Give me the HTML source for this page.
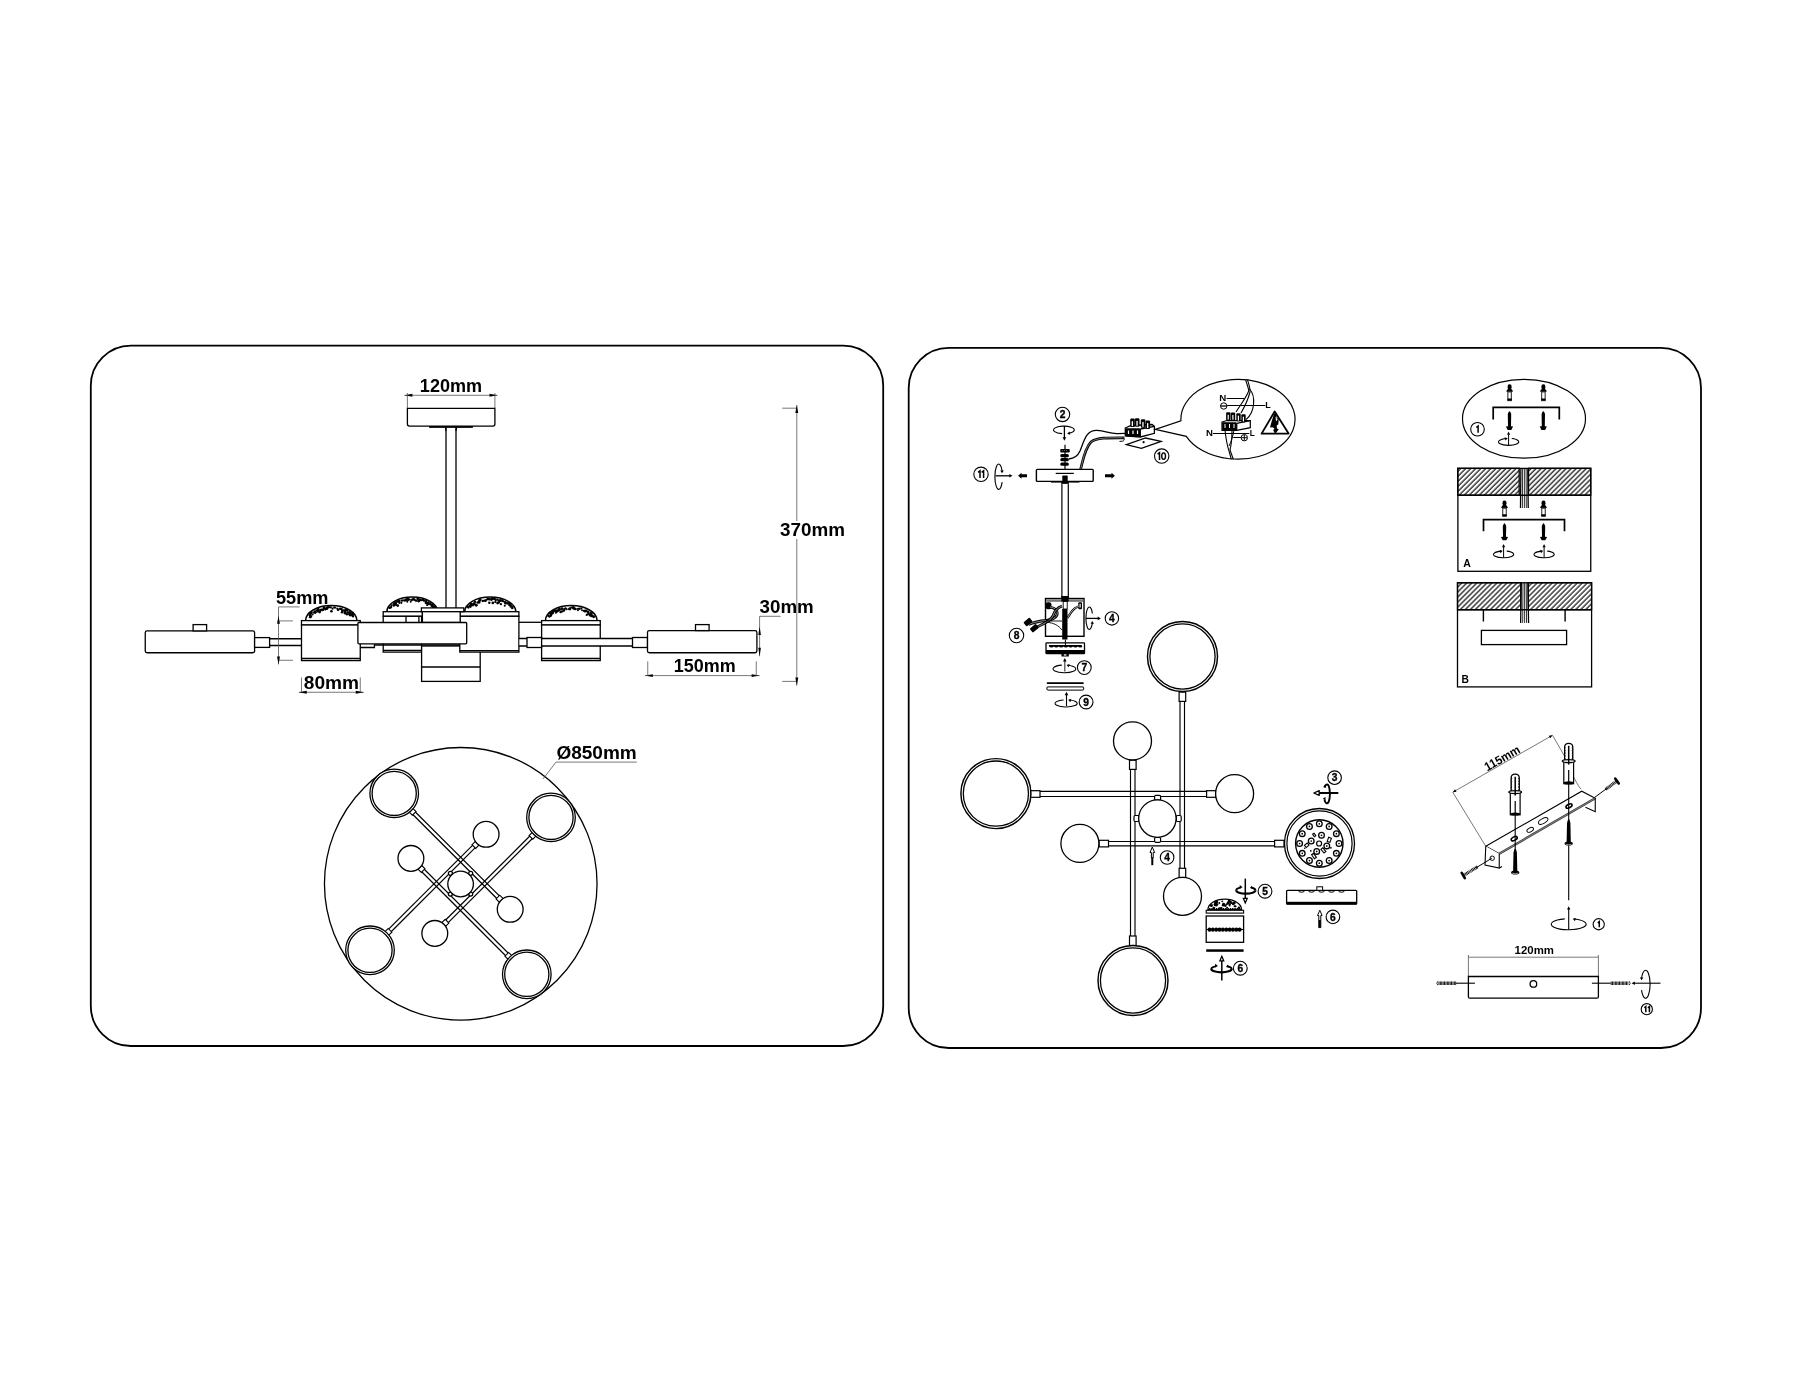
<!DOCTYPE html>
<html><head><meta charset="utf-8">
<style>
html,body{margin:0;padding:0;background:#fff;}
body{width:1800px;height:1400px;overflow:hidden;}
svg{display:block;filter:grayscale(1);}
text{font-family:"Liberation Sans",sans-serif;font-weight:bold;fill:#000;}
.k{fill:none;stroke:#000;stroke-width:1.3;}
.t{fill:none;stroke:#000;stroke-width:1;}
.d{fill:none;stroke:#555;stroke-width:0.8;}
.p{fill:none;stroke:#000;stroke-width:1.8;}
.w{fill:#fff;stroke:#000;stroke-width:1.3;}
.f{fill:#000;stroke:none;}
.wf{fill:#fff;stroke:none;}
.g{fill:#777;stroke:none;}
.n{fill:#fff;stroke:#000;stroke-width:1.1;}
</style></head>
<body>
<svg width="1800" height="1400" viewBox="0 0 1800 1400">
<!-- panels -->
<rect class="p" x="90.8" y="345.6" width="792.4" height="700.4" rx="40"/>
<rect class="p" x="908.7" y="347.9" width="792.3" height="700.1" rx="40"/>
<line class="d" x1="404.40" y1="395.30" x2="497.50" y2="395.30"/>
<path class="f" d="M404.40,395.30 L412.40,393.85 L412.40,396.75Z"/>
<path class="f" d="M497.50,395.30 L489.50,396.75 L489.50,393.85Z"/>
<line class="d" x1="407.40" y1="393.00" x2="407.40" y2="408.00"/>
<line class="d" x1="494.90" y1="393.00" x2="494.90" y2="408.00"/>
<text opacity="0.995" x="451.00" y="391.80" font-size="17.5" textLength="62.30" lengthAdjust="spacingAndGlyphs" text-anchor="middle" >120mm</text>
<path class="w" d="M407.4,408.4 L494.9,408.4 L494.9,424.1 Q494.9,426.1 492.9,426.1 L409.4,426.1 Q407.4,426.1 407.4,424.1 Z"/>
<line class="k" x1="429.20" y1="426.90" x2="472.80" y2="426.90"/>
<line x1="429.2" y1="427" x2="472.8" y2="427" stroke="#000" stroke-width="1.6"/>
<path class="k" d="M445.4,427.5 Q446,429 446,431 M456.6,427.5 Q456,429 456,431"/>
<line class="k" x1="446.00" y1="426.50" x2="446.00" y2="608.00"/>
<line class="k" x1="456.00" y1="426.50" x2="456.00" y2="608.00"/>
<path class="w" style="stroke-width:1.5" d="M386.90,611.70 A25.35,14.70 0 0 1 437.60,611.70"/>
<circle cx="389.66" cy="607.75" r="1.36" fill="#000"/>
<circle cx="390.91" cy="607.40" r="1.16" fill="#000"/>
<circle cx="391.41" cy="606.65" r="0.93" fill="#000"/>
<circle cx="391.34" cy="605.30" r="0.96" fill="#000"/>
<circle cx="393.59" cy="605.51" r="0.99" fill="#000"/>
<circle cx="393.92" cy="604.70" r="1.56" fill="#000"/>
<circle cx="394.61" cy="603.62" r="1.58" fill="#000"/>
<circle cx="396.05" cy="603.94" r="1.10" fill="#000"/>
<circle cx="395.95" cy="602.14" r="1.12" fill="#000"/>
<circle cx="397.68" cy="601.47" r="1.31" fill="#000"/>
<circle cx="399.03" cy="601.39" r="1.28" fill="#000"/>
<circle cx="399.44" cy="600.50" r="1.04" fill="#000"/>
<circle cx="401.68" cy="600.66" r="1.12" fill="#000"/>
<circle cx="402.96" cy="600.39" r="1.11" fill="#000"/>
<circle cx="404.71" cy="600.59" r="1.07" fill="#000"/>
<circle cx="405.78" cy="600.01" r="1.51" fill="#000"/>
<circle cx="407.23" cy="599.26" r="1.59" fill="#000"/>
<circle cx="408.20" cy="599.45" r="1.43" fill="#000"/>
<circle cx="409.72" cy="599.50" r="0.93" fill="#000"/>
<circle cx="411.68" cy="600.06" r="1.30" fill="#000"/>
<circle cx="413.35" cy="599.04" r="1.39" fill="#000"/>
<circle cx="414.53" cy="599.69" r="1.22" fill="#000"/>
<circle cx="416.05" cy="600.64" r="1.23" fill="#000"/>
<circle cx="417.75" cy="598.80" r="1.39" fill="#000"/>
<circle cx="418.60" cy="601.07" r="1.48" fill="#000"/>
<circle cx="420.10" cy="599.93" r="1.37" fill="#000"/>
<circle cx="421.20" cy="600.33" r="1.02" fill="#000"/>
<circle cx="423.04" cy="599.86" r="1.44" fill="#000"/>
<circle cx="424.18" cy="600.65" r="1.17" fill="#000"/>
<circle cx="426.25" cy="601.00" r="1.21" fill="#000"/>
<circle cx="426.07" cy="602.85" r="1.47" fill="#000"/>
<circle cx="428.30" cy="602.41" r="1.19" fill="#000"/>
<circle cx="428.04" cy="603.78" r="1.57" fill="#000"/>
<circle cx="430.11" cy="603.18" r="1.06" fill="#000"/>
<circle cx="430.55" cy="604.29" r="1.31" fill="#000"/>
<circle cx="432.34" cy="604.35" r="1.19" fill="#000"/>
<circle cx="432.07" cy="605.77" r="1.57" fill="#000"/>
<circle cx="432.98" cy="606.55" r="1.33" fill="#000"/>
<circle cx="434.54" cy="606.88" r="1.53" fill="#000"/>
<circle cx="433.28" cy="608.30" r="1.46" fill="#000"/>
<circle cx="407.36" cy="601.78" r="0.95" fill="#000"/>
<circle cx="418.56" cy="601.13" r="0.93" fill="#000"/>
<circle cx="399.44" cy="603.04" r="1.07" fill="#000"/>
<circle cx="394.06" cy="605.50" r="0.98" fill="#000"/>
<circle cx="396.16" cy="605.11" r="0.91" fill="#000"/>
<circle cx="427.15" cy="605.13" r="0.97" fill="#000"/>
<circle cx="401.38" cy="602.86" r="1.08" fill="#000"/>
<circle cx="397.70" cy="605.57" r="1.40" fill="#000"/>
<circle cx="410.71" cy="601.74" r="0.94" fill="#000"/>
<circle cx="396.14" cy="605.07" r="1.03" fill="#000"/>
<circle cx="426.44" cy="603.61" r="0.91" fill="#000"/>
<rect class="w" x="383.20" y="611.70" width="39.20" height="4.60"/>
<rect class="w" x="383.20" y="616.30" width="38.40" height="35.80"/>
<line class="k" x1="383.20" y1="650.30" x2="421.60" y2="650.30"/>
<line class="k" x1="406.00" y1="616.30" x2="406.00" y2="622.50"/>
<line class="k" x1="418.90" y1="616.30" x2="418.90" y2="622.50"/>
<rect class="w" x="421.60" y="646.00" width="58.60" height="35.40"/>
<line class="k" x1="421.60" y1="667.00" x2="480.20" y2="667.00"/>
<path class="w" style="stroke-width:1.5" d="M464.70,611.70 A25.55,14.70 0 0 1 515.80,611.70"/>
<circle cx="468.47" cy="607.73" r="1.00" fill="#000"/>
<circle cx="467.79" cy="606.75" r="1.27" fill="#000"/>
<circle cx="470.32" cy="606.61" r="1.39" fill="#000"/>
<circle cx="469.69" cy="605.70" r="1.02" fill="#000"/>
<circle cx="471.03" cy="605.00" r="1.45" fill="#000"/>
<circle cx="471.06" cy="604.11" r="1.47" fill="#000"/>
<circle cx="473.50" cy="604.16" r="1.46" fill="#000"/>
<circle cx="474.19" cy="603.49" r="1.06" fill="#000"/>
<circle cx="474.44" cy="602.41" r="0.92" fill="#000"/>
<circle cx="475.12" cy="601.91" r="1.08" fill="#000"/>
<circle cx="477.72" cy="602.48" r="1.21" fill="#000"/>
<circle cx="479.13" cy="602.10" r="1.57" fill="#000"/>
<circle cx="479.10" cy="600.32" r="1.06" fill="#000"/>
<circle cx="480.31" cy="599.95" r="1.34" fill="#000"/>
<circle cx="482.84" cy="600.88" r="1.24" fill="#000"/>
<circle cx="483.97" cy="600.60" r="0.96" fill="#000"/>
<circle cx="485.43" cy="600.66" r="1.45" fill="#000"/>
<circle cx="486.77" cy="599.54" r="1.02" fill="#000"/>
<circle cx="488.25" cy="599.11" r="1.46" fill="#000"/>
<circle cx="489.94" cy="599.21" r="1.18" fill="#000"/>
<circle cx="491.38" cy="599.98" r="1.02" fill="#000"/>
<circle cx="492.20" cy="598.69" r="1.53" fill="#000"/>
<circle cx="494.38" cy="598.83" r="1.48" fill="#000"/>
<circle cx="495.76" cy="600.17" r="1.15" fill="#000"/>
<circle cx="497.14" cy="599.16" r="0.91" fill="#000"/>
<circle cx="498.55" cy="600.61" r="1.27" fill="#000"/>
<circle cx="500.07" cy="600.46" r="1.51" fill="#000"/>
<circle cx="501.57" cy="600.34" r="1.08" fill="#000"/>
<circle cx="502.42" cy="600.68" r="1.31" fill="#000"/>
<circle cx="503.45" cy="601.45" r="0.99" fill="#000"/>
<circle cx="505.22" cy="602.02" r="1.22" fill="#000"/>
<circle cx="505.27" cy="603.37" r="1.19" fill="#000"/>
<circle cx="507.17" cy="603.37" r="1.27" fill="#000"/>
<circle cx="508.77" cy="603.10" r="1.21" fill="#000"/>
<circle cx="509.56" cy="603.61" r="1.46" fill="#000"/>
<circle cx="509.56" cy="604.90" r="1.41" fill="#000"/>
<circle cx="510.81" cy="605.58" r="1.26" fill="#000"/>
<circle cx="510.55" cy="606.75" r="0.97" fill="#000"/>
<circle cx="512.27" cy="606.99" r="1.09" fill="#000"/>
<circle cx="512.28" cy="608.05" r="1.29" fill="#000"/>
<circle cx="500.95" cy="604.20" r="1.12" fill="#000"/>
<circle cx="495.34" cy="602.07" r="1.16" fill="#000"/>
<circle cx="498.85" cy="602.52" r="1.17" fill="#000"/>
<circle cx="489.30" cy="602.86" r="1.25" fill="#000"/>
<circle cx="504.76" cy="605.72" r="1.03" fill="#000"/>
<circle cx="492.82" cy="602.93" r="1.32" fill="#000"/>
<circle cx="474.68" cy="604.09" r="1.12" fill="#000"/>
<circle cx="472.93" cy="605.45" r="0.94" fill="#000"/>
<circle cx="497.57" cy="603.09" r="1.35" fill="#000"/>
<circle cx="476.29" cy="604.88" r="1.23" fill="#000"/>
<circle cx="476.22" cy="605.34" r="1.38" fill="#000"/>
<rect class="w" x="459.80" y="611.70" width="59.10" height="4.60"/>
<rect class="w" x="459.80" y="616.30" width="59.10" height="35.80"/>
<line class="k" x1="459.80" y1="650.60" x2="518.90" y2="650.60"/>
<rect class="w" x="421.40" y="607.90" width="42.40" height="3.80"/>
<rect class="w" x="422.40" y="611.70" width="37.80" height="10.80"/>
<path class="w" style="stroke-width:1.5" d="M305.60,620.60 A25.65,15.00 0 0 1 356.90,620.60"/>
<circle cx="310.10" cy="617.17" r="1.18" fill="#000"/>
<circle cx="310.72" cy="616.40" r="1.48" fill="#000"/>
<circle cx="309.98" cy="615.35" r="1.26" fill="#000"/>
<circle cx="310.23" cy="614.29" r="1.12" fill="#000"/>
<circle cx="310.84" cy="613.18" r="1.29" fill="#000"/>
<circle cx="311.55" cy="612.60" r="1.13" fill="#000"/>
<circle cx="313.47" cy="612.57" r="0.95" fill="#000"/>
<circle cx="315.12" cy="612.30" r="1.58" fill="#000"/>
<circle cx="314.73" cy="611.20" r="0.93" fill="#000"/>
<circle cx="316.33" cy="610.43" r="0.99" fill="#000"/>
<circle cx="318.11" cy="611.23" r="1.47" fill="#000"/>
<circle cx="318.19" cy="609.39" r="1.54" fill="#000"/>
<circle cx="320.35" cy="609.99" r="0.96" fill="#000"/>
<circle cx="321.19" cy="609.73" r="1.20" fill="#000"/>
<circle cx="322.73" cy="609.94" r="1.34" fill="#000"/>
<circle cx="324.06" cy="607.70" r="1.50" fill="#000"/>
<circle cx="325.31" cy="609.30" r="1.22" fill="#000"/>
<circle cx="326.78" cy="608.41" r="1.55" fill="#000"/>
<circle cx="328.01" cy="607.32" r="1.27" fill="#000"/>
<circle cx="329.49" cy="607.19" r="1.01" fill="#000"/>
<circle cx="330.82" cy="607.37" r="1.12" fill="#000"/>
<circle cx="332.49" cy="608.66" r="1.10" fill="#000"/>
<circle cx="334.25" cy="607.41" r="1.14" fill="#000"/>
<circle cx="335.25" cy="607.66" r="0.91" fill="#000"/>
<circle cx="337.20" cy="608.59" r="1.03" fill="#000"/>
<circle cx="338.09" cy="609.61" r="0.97" fill="#000"/>
<circle cx="340.12" cy="608.85" r="1.25" fill="#000"/>
<circle cx="341.52" cy="609.10" r="1.25" fill="#000"/>
<circle cx="342.04" cy="610.62" r="1.14" fill="#000"/>
<circle cx="343.68" cy="610.49" r="1.35" fill="#000"/>
<circle cx="345.02" cy="610.13" r="0.94" fill="#000"/>
<circle cx="346.39" cy="610.04" r="1.42" fill="#000"/>
<circle cx="347.49" cy="610.80" r="0.96" fill="#000"/>
<circle cx="347.75" cy="612.71" r="1.37" fill="#000"/>
<circle cx="349.45" cy="612.13" r="1.11" fill="#000"/>
<circle cx="350.63" cy="612.74" r="1.21" fill="#000"/>
<circle cx="349.83" cy="614.35" r="1.58" fill="#000"/>
<circle cx="352.12" cy="614.29" r="1.58" fill="#000"/>
<circle cx="352.46" cy="615.03" r="0.90" fill="#000"/>
<circle cx="352.83" cy="615.90" r="1.25" fill="#000"/>
<circle cx="353.22" cy="616.58" r="0.90" fill="#000"/>
<circle cx="320.38" cy="610.81" r="1.10" fill="#000"/>
<circle cx="312.56" cy="614.49" r="1.05" fill="#000"/>
<circle cx="319.78" cy="612.25" r="1.16" fill="#000"/>
<circle cx="341.99" cy="612.20" r="1.26" fill="#000"/>
<circle cx="346.93" cy="613.52" r="1.06" fill="#000"/>
<circle cx="350.31" cy="615.22" r="1.26" fill="#000"/>
<circle cx="338.08" cy="609.77" r="1.32" fill="#000"/>
<circle cx="346.87" cy="614.13" r="1.27" fill="#000"/>
<circle cx="345.07" cy="611.98" r="1.16" fill="#000"/>
<circle cx="331.44" cy="611.19" r="1.30" fill="#000"/>
<circle cx="344.86" cy="613.04" r="1.35" fill="#000"/>
<rect class="w" x="301.50" y="620.60" width="58.75" height="4.40"/>
<rect class="w" x="301.50" y="625.00" width="58.75" height="35.60"/>
<line class="k" x1="301.50" y1="658.50" x2="360.25" y2="658.50"/>
<path class="k" d="M360.25,647.5 L374.4,647.5 L374.4,644.4"/>
<line class="k" x1="374.00" y1="645.00" x2="460.00" y2="645.00"/>
<rect class="w" x="357.90" y="622.50" width="108.80" height="21.30" rx="1"/>
<line class="k" x1="518.90" y1="622.30" x2="541.60" y2="622.30"/>
<rect class="w" x="145.25" y="630.90" width="109.35" height="21.85" rx="1.8"/>
<rect class="w" x="193.10" y="624.60" width="13.50" height="6.30"/>
<rect class="w" x="254.60" y="637.60" width="15.00" height="9.80"/>
<line class="k" x1="269.60" y1="638.75" x2="301.50" y2="638.75"/>
<line class="k" x1="269.60" y1="645.50" x2="301.50" y2="645.50"/>
<path class="w" style="stroke-width:1.5" d="M545.40,620.60 A25.85,15.00 0 0 1 597.10,620.60"/>
<circle cx="549.47" cy="616.78" r="1.06" fill="#000"/>
<circle cx="548.55" cy="615.90" r="1.15" fill="#000"/>
<circle cx="550.63" cy="615.75" r="1.29" fill="#000"/>
<circle cx="551.06" cy="614.64" r="1.38" fill="#000"/>
<circle cx="550.52" cy="613.27" r="1.46" fill="#000"/>
<circle cx="552.46" cy="613.13" r="1.27" fill="#000"/>
<circle cx="552.55" cy="611.90" r="1.42" fill="#000"/>
<circle cx="553.31" cy="611.44" r="1.09" fill="#000"/>
<circle cx="554.93" cy="610.87" r="1.42" fill="#000"/>
<circle cx="556.67" cy="610.77" r="1.17" fill="#000"/>
<circle cx="557.73" cy="610.79" r="1.44" fill="#000"/>
<circle cx="558.98" cy="610.25" r="0.95" fill="#000"/>
<circle cx="559.41" cy="609.20" r="1.42" fill="#000"/>
<circle cx="561.19" cy="609.43" r="0.91" fill="#000"/>
<circle cx="562.05" cy="608.52" r="1.37" fill="#000"/>
<circle cx="564.31" cy="609.02" r="1.10" fill="#000"/>
<circle cx="565.43" cy="608.36" r="1.23" fill="#000"/>
<circle cx="566.70" cy="609.20" r="1.04" fill="#000"/>
<circle cx="568.87" cy="609.12" r="0.91" fill="#000"/>
<circle cx="569.79" cy="608.81" r="1.58" fill="#000"/>
<circle cx="571.20" cy="607.52" r="1.05" fill="#000"/>
<circle cx="573.19" cy="607.43" r="1.31" fill="#000"/>
<circle cx="573.84" cy="608.18" r="1.57" fill="#000"/>
<circle cx="575.17" cy="608.96" r="1.26" fill="#000"/>
<circle cx="577.30" cy="608.95" r="1.06" fill="#000"/>
<circle cx="578.84" cy="608.70" r="0.92" fill="#000"/>
<circle cx="579.44" cy="608.82" r="1.22" fill="#000"/>
<circle cx="581.39" cy="608.45" r="1.14" fill="#000"/>
<circle cx="582.00" cy="610.25" r="0.90" fill="#000"/>
<circle cx="583.56" cy="610.73" r="0.98" fill="#000"/>
<circle cx="585.03" cy="610.97" r="1.53" fill="#000"/>
<circle cx="586.20" cy="610.64" r="1.18" fill="#000"/>
<circle cx="587.46" cy="611.77" r="1.15" fill="#000"/>
<circle cx="588.64" cy="611.63" r="0.93" fill="#000"/>
<circle cx="588.45" cy="612.95" r="1.10" fill="#000"/>
<circle cx="590.89" cy="613.07" r="1.09" fill="#000"/>
<circle cx="591.62" cy="613.50" r="1.16" fill="#000"/>
<circle cx="591.18" cy="615.17" r="1.47" fill="#000"/>
<circle cx="591.61" cy="615.72" r="1.56" fill="#000"/>
<circle cx="592.55" cy="616.19" r="0.93" fill="#000"/>
<circle cx="593.68" cy="616.80" r="1.43" fill="#000"/>
<circle cx="578.01" cy="610.36" r="0.92" fill="#000"/>
<circle cx="589.02" cy="613.99" r="1.14" fill="#000"/>
<circle cx="563.97" cy="610.47" r="1.27" fill="#000"/>
<circle cx="590.04" cy="615.18" r="1.23" fill="#000"/>
<circle cx="562.36" cy="611.45" r="1.10" fill="#000"/>
<circle cx="556.59" cy="612.34" r="1.00" fill="#000"/>
<circle cx="587.69" cy="614.17" r="1.01" fill="#000"/>
<circle cx="586.72" cy="614.95" r="1.12" fill="#000"/>
<circle cx="555.68" cy="612.86" r="0.95" fill="#000"/>
<circle cx="563.72" cy="610.00" r="1.02" fill="#000"/>
<circle cx="560.65" cy="611.91" r="1.34" fill="#000"/>
<rect class="w" x="541.60" y="620.60" width="58.65" height="4.40"/>
<rect class="w" x="541.60" y="625.00" width="58.65" height="35.60"/>
<line class="k" x1="541.60" y1="658.50" x2="600.25" y2="658.50"/>
<rect x="519.6" y="638.8" width="113" height="6.9" fill="#fff"/>
<line class="k" x1="519.00" y1="638.50" x2="632.50" y2="638.50"/>
<line class="k" x1="519.00" y1="646.00" x2="632.50" y2="646.00"/>
<rect class="w" x="527.00" y="637.50" width="14.60" height="10.00"/>
<rect class="w" x="632.50" y="637.50" width="15.00" height="10.00"/>
<rect class="w" x="647.50" y="630.60" width="109.40" height="22.15" rx="1.8"/>
<rect class="w" x="695.50" y="624.60" width="13.60" height="6.00"/>
<line class="d" x1="278.50" y1="606.90" x2="278.50" y2="664.40"/>
<line class="d" x1="278.50" y1="606.90" x2="299.60" y2="606.90"/>
<line class="d" x1="279.60" y1="620.90" x2="292.90" y2="620.90"/>
<line class="d" x1="278.50" y1="660.25" x2="293.00" y2="660.25"/>
<path class="f" d="M278.50,615.80 L279.95,623.80 L277.05,623.80Z"/>
<path class="f" d="M278.50,664.40 L277.05,656.40 L279.95,656.40Z"/>
<text opacity="0.995" x="276.00" y="603.75" font-size="17.5" textLength="52.50" lengthAdjust="spacingAndGlyphs" text-anchor="start" >55mm</text>
<line class="d" x1="298.75" y1="692.25" x2="363.75" y2="692.25"/>
<path class="f" d="M298.75,692.25 L306.75,690.80 L306.75,693.70Z"/>
<path class="f" d="M363.75,692.25 L355.75,693.70 L355.75,690.80Z"/>
<line class="d" x1="301.50" y1="677.50" x2="301.50" y2="692.00"/>
<line class="d" x1="360.25" y1="677.50" x2="360.25" y2="692.00"/>
<text opacity="0.995" x="303.75" y="688.75" font-size="17.5" textLength="55.30" lengthAdjust="spacingAndGlyphs" text-anchor="start" >80mm</text>
<line class="d" x1="644.90" y1="675.60" x2="759.60" y2="675.60"/>
<path class="f" d="M644.90,675.60 L652.90,674.15 L652.90,677.05Z"/>
<path class="f" d="M759.60,675.60 L751.60,677.05 L751.60,674.15Z"/>
<line class="d" x1="647.75" y1="661.30" x2="647.75" y2="676.00"/>
<line class="d" x1="756.25" y1="661.30" x2="756.25" y2="676.00"/>
<text opacity="0.995" x="673.70" y="671.70" font-size="17.5" textLength="62.00" lengthAdjust="spacingAndGlyphs" text-anchor="start" >150mm</text>
<line class="d" x1="759.60" y1="616.30" x2="759.60" y2="656.30"/>
<line class="d" x1="759.60" y1="616.30" x2="780.60" y2="616.30"/>
<path class="f" d="M759.60,626.60 L760.90,635.10 L758.30,635.10Z"/>
<path class="f" d="M759.60,656.30 L758.30,647.80 L760.90,647.80Z"/>
<text opacity="0.995" x="759.60" y="612.50" font-size="17.5" textLength="54.20" lengthAdjust="spacingAndGlyphs" text-anchor="start" >30mm</text>
<line class="d" x1="796.80" y1="405.00" x2="796.80" y2="685.60"/>
<line class="d" x1="782.20" y1="408.20" x2="796.80" y2="408.20"/>
<line class="d" x1="782.20" y1="681.40" x2="796.80" y2="681.40"/>
<path class="f" d="M796.80,405.00 L798.25,413.00 L795.35,413.00Z"/>
<path class="f" d="M796.80,685.60 L795.35,677.60 L798.25,677.60Z"/>
<rect x="779" y="521" width="67" height="18" fill="#fff"/>
<text opacity="0.995" x="780.00" y="536.00" font-size="17.5" textLength="65.00" lengthAdjust="spacingAndGlyphs" text-anchor="start" >370mm</text>
<circle class="k" cx="460.75" cy="883.8" r="136.3"/>
<path class="d" d="M543.1,778.9 L556,762.1 L636.8,762.1"/>
<text opacity="0.995" x="556.40" y="758.90" font-size="17.5" textLength="80.40" lengthAdjust="spacingAndGlyphs" text-anchor="start" >Ø850mm</text>
<line class="k" style="stroke-width:1.2" x1="409.55" y1="811.28" x2="500.09" y2="901.74"/>
<line class="k" style="stroke-width:1.2" x1="412.10" y1="808.74" x2="502.63" y2="899.19"/>
<path class="k" style="fill:#fff;stroke-width:1.1" d="M408.99,811.85 L412.38,815.24 L416.06,811.56 L412.66,808.17Z" style="fill:#fff"/>
<path class="k" style="fill:#fff;stroke-width:1.1" d="M499.52,902.30 L496.12,898.91 L499.80,895.23 L503.20,898.63Z" style="fill:#fff"/>
<line class="k" style="stroke-width:1.2" x1="418.47" y1="868.51" x2="508.91" y2="958.96"/>
<line class="k" style="stroke-width:1.2" x1="421.01" y1="865.97" x2="511.46" y2="956.41"/>
<path class="k" style="fill:#fff;stroke-width:1.1" d="M417.90,869.08 L421.29,872.47 L424.97,868.79 L421.58,865.40Z" style="fill:#fff"/>
<path class="k" style="fill:#fff;stroke-width:1.1" d="M508.34,959.52 L504.95,956.13 L508.63,952.45 L512.02,955.84Z" style="fill:#fff"/>
<line class="k" style="stroke-width:1.2" x1="533.10" y1="832.73" x2="442.37" y2="923.29"/>
<line class="k" style="stroke-width:1.2" x1="535.64" y1="835.28" x2="444.92" y2="925.84"/>
<path class="k" style="fill:#fff;stroke-width:1.1" d="M532.53,832.16 L529.13,835.55 L532.81,839.23 L536.21,835.84Z" style="fill:#fff"/>
<path class="k" style="fill:#fff;stroke-width:1.1" d="M441.81,922.73 L445.21,919.34 L448.88,923.02 L445.48,926.41Z" style="fill:#fff"/>
<line class="k" style="stroke-width:1.2" x1="475.99" y1="841.86" x2="385.35" y2="932.42"/>
<line class="k" style="stroke-width:1.2" x1="478.53" y1="844.41" x2="387.90" y2="934.96"/>
<path class="k" style="fill:#fff;stroke-width:1.1" d="M475.42,841.30 L472.02,844.69 L475.70,848.37 L479.10,844.97Z" style="fill:#fff"/>
<path class="k" style="fill:#fff;stroke-width:1.1" d="M384.79,931.85 L388.18,928.46 L391.86,932.14 L388.46,935.53Z" style="fill:#fff"/>
<circle class="w" cx="394.2" cy="793.4" r="24.3"/><circle class="k" cx="394.2" cy="793.4" r="22.1"/>
<circle class="w" cx="551" cy="817.4" r="24.3"/><circle class="k" cx="551" cy="817.4" r="22.1"/>
<circle class="w" cx="370" cy="950.3" r="24.3"/><circle class="k" cx="370" cy="950.3" r="22.1"/>
<circle class="w" cx="526.8" cy="974.3" r="24.3"/><circle class="k" cx="526.8" cy="974.3" r="22.1"/>
<circle class="w" cx="486.1" cy="834.3" r="12.9"/>
<circle class="w" cx="410.9" cy="858.4" r="12.9"/>
<circle class="w" cx="510.2" cy="909.3" r="12.9"/>
<circle class="w" cx="434.8" cy="933.4" r="12.9"/>
<circle class="w" cx="450.4" cy="873.3" r="2"/>
<circle class="w" cx="470.7" cy="873.3" r="2"/>
<circle class="w" cx="450.4" cy="894.1" r="2"/>
<circle class="w" cx="470.7" cy="894.1" r="2"/>
<circle class="w" cx="460.6" cy="884" r="12.8"/>
<circle class="n" cx="1062.50" cy="414.40" r="7.20" />
<text opacity="0.995" x="1062.50" y="418.18" font-size="10.5" text-anchor="middle" textLength="5.7" lengthAdjust="spacingAndGlyphs" style="stroke:#000;stroke-width:0.35">2</text>
<path class="k" d="M1062.09,433.64 A10.40,3.80 0 1 1 1068.78,433.26" style='stroke-width:1.1'/>
<path class="f" d="M1067.18,433.76 L1069.49,431.43 L1070.31,434.73Z"/>
<line class="k" x1="1064.40" y1="426.00" x2="1064.40" y2="438.00" />
<path class="f" d="M1064.40,440.80 L1062.60,437.30 L1066.20,437.30Z"/>
<line class="k" x1="1065.00" y1="444.70" x2="1065.00" y2="469.00" style='stroke-width:1.2'/>
<rect class="f" x="1060.30" y="448.90" width="9.40" height="3.70" rx="0.8" />
<circle class="wf" cx="1062.20" cy="450.60" r="0.45" />
<circle class="wf" cx="1064.50" cy="450.60" r="0.45" />
<circle class="wf" cx="1066.80" cy="450.60" r="0.45" />
<rect class="f" x="1060.30" y="454.00" width="8.50" height="3.20" rx="1.5" />
<rect class="f" x="1060.30" y="458.00" width="8.50" height="3.20" rx="1.5" />
<rect class="f" x="1060.30" y="462.50" width="8.50" height="3.20" rx="1.5" />
<path class="k" d="M1068.8,459 C1074,458.5 1077.5,456.5 1080,451 C1084,441 1086,430 1097,430.4 C1106,430.8 1110,434.2 1118,433.6 L1125.3,433.3" style='stroke-width:1.3'/>
<path class="k" d="M1080.6,469.4 C1083,460 1085,448 1091,442 C1097,437.5 1108,437.7 1124.4,437.8" style='stroke-width:2.7'/>
<path class="k" d="M1080.6,469.4 C1083,460 1085,448 1091,442 C1097,437.5 1108,437.7 1124.4,437.8" style='stroke-width:0.8;stroke:#999'/>
<path class="k" d="M1122,437.6 C1124.5,437.8 1125,440.6 1122.5,441.2 L1119.5,441.4" style='stroke-width:1'/>
<rect class="w" x="1036.40" y="469.40" width="56.80" height="12.00" rx="0.8" style='stroke-width:1.4'/>
<line class="k" x1="1055.70" y1="473.40" x2="1073.80" y2="473.40" style='stroke-width:1.2'/>
<line class="k" x1="1051.00" y1="481.90" x2="1079.40" y2="481.90" style='stroke-width:1.4'/>
<rect class="f" x="1062.30" y="475.40" width="5.40" height="8.00" rx="0.8" />
<rect class="f" x="1061.30" y="481.00" width="7.40" height="2.80" />
<path class="f" d="M1018.1,475.8 L1021.5,472.8 L1021.5,474.3 L1027,474.3 L1027,477.3 L1021.5,477.3 L1021.5,478.8Z" />
<path class="f" d="M1114.9,475.8 L1111.5,472.8 L1111.5,474.3 L1105,474.3 L1105,477.3 L1111.5,477.3 L1111.5,478.8Z" />
<circle class="n" cx="981.00" cy="474.30" r="7.20" />
<path d="M978.08,472.44 L980.00,470.82 L980.00,478.08" fill="none" stroke="#000" stroke-width="1.5" stroke-linejoin="miter" stroke-linecap="butt"/>
<path d="M981.68,472.44 L983.60,470.82 L983.60,478.08" fill="none" stroke="#000" stroke-width="1.5" stroke-linejoin="miter" stroke-linecap="butt"/>
<path class="k" d="M1002.14,482.07 A3.80,12.70 0 1 1 1002.14,471.33" style='stroke-width:1.1'/>
<path class="f" d="M1002.04,473.33 L1000.34,470.53 L1003.74,470.53Z"/>
<line class="k" x1="995.50" y1="475.80" x2="1010.00" y2="475.80" />
<path class="f" d="M1012.50,475.80 L1009.30,477.60 L1009.30,474.00Z"/>
<line class="k" x1="1061.90" y1="483.40" x2="1061.90" y2="598.50" style='stroke-width:1.2'/>
<line class="k" x1="1068.30" y1="483.40" x2="1068.30" y2="598.50" style='stroke-width:1.2'/>
<path class="w" d="M1126.4,444.7 L1141.4,448.3 L1161.1,441.4 L1145.6,438 Z" style='stroke-width:1.3'/>
<circle class="f" cx="1143.60" cy="442.20" r="1.10" />
<path class="w" d="M1125.3,428 L1131,425.5 L1152,424.5 L1154.4,426.4 L1154.4,433.3 L1140.3,437 L1125.3,435.8 Z" style='stroke-width:1.3'/>
<line class="k" x1="1140.30" y1="429.00" x2="1154.40" y2="426.40" />
<line class="k" x1="1140.30" y1="429.00" x2="1140.30" y2="437.00" />
<rect class="f" x="1125.60" y="428.20" width="14.40" height="8.30" rx="0.5" />
<rect class="wf" x="1127.90" y="430.50" width="1.20" height="3.50" />
<rect class="wf" x="1132.40" y="430.50" width="1.20" height="3.50" />
<rect class="wf" x="1136.90" y="430.50" width="1.20" height="3.50" />
<rect class="f" x="1130.20" y="418.60" width="4.60" height="8.50" rx="1.2" />
<rect class="wf" x="1131.70" y="421.20" width="1.30" height="4.90" />
<rect class="f" x="1134.90" y="418.30" width="4.60" height="8.50" rx="1.2" />
<rect class="wf" x="1136.40" y="420.90" width="1.30" height="4.90" />
<rect class="f" x="1140.80" y="419.30" width="4.60" height="8.50" rx="1.2" />
<rect class="wf" x="1142.30" y="421.90" width="1.30" height="4.90" />
<rect class="f" x="1145.50" y="420.50" width="4.60" height="8.50" rx="1.2" />
<rect class="wf" x="1147.00" y="423.10" width="1.30" height="4.90" />
<circle class="n" cx="1161.70" cy="456.10" r="7.20" />
<path d="M1157.58,454.24 L1159.50,452.62 L1159.50,459.88" fill="none" stroke="#000" stroke-width="1.5" stroke-linejoin="miter" stroke-linecap="butt"/>
<ellipse cx="1163.60" cy="456.10" rx="1.89" ry="3.25" fill="none" stroke="#000" stroke-width="1.4"/>
<path class="w" d="M1180.9,420.8 A57.1,39.9 0 1 1 1186.3,436.3 L1155.3,429.4 Z" style='stroke-width:1.2'/>
<text opacity="0.995" x="1219.30" y="401.30" font-size="9.8" textLength="7.00" lengthAdjust="spacingAndGlyphs" text-anchor="start" >N</text>
<text opacity="0.995" x="1206.10" y="435.70" font-size="9.8" textLength="6.90" lengthAdjust="spacingAndGlyphs" text-anchor="start" >N</text>
<text opacity="0.995" x="1265.30" y="407.70" font-size="9.8" textLength="5.50" lengthAdjust="spacingAndGlyphs" text-anchor="start" >L</text>
<text opacity="0.995" x="1249.70" y="435.70" font-size="9.8" textLength="5.00" lengthAdjust="spacingAndGlyphs" text-anchor="start" >L</text>
<line class="k" x1="1226.50" y1="398.50" x2="1244.30" y2="398.50" style='stroke-width:1'/>
<line class="k" x1="1227.00" y1="405.50" x2="1265.30" y2="405.50" style='stroke-width:1'/>
<line class="k" x1="1213.00" y1="433.50" x2="1249.30" y2="433.50" style='stroke-width:1'/>
<line class="k" x1="1233.30" y1="437.50" x2="1241.00" y2="437.50" style='stroke-width:1'/>
<circle class="w" cx="1223.70" cy="406.00" r="3.20" style='stroke-width:1'/>
<line class="k" x1="1221.00" y1="406.00" x2="1226.40" y2="406.00" style='stroke-width:1.3'/>
<circle class="w" cx="1244.30" cy="437.70" r="3.20" style='stroke-width:1'/>
<line class="k" x1="1241.50" y1="437.70" x2="1247.00" y2="437.70" style='stroke-width:1'/>
<line class="k" x1="1244.30" y1="435.00" x2="1244.30" y2="440.40" style='stroke-width:1'/>
<path class="k" d="M1245.7,379.8 C1247,385 1249,389 1248.7,391 C1246,398 1241,404 1236,412" style='stroke-width:1.1'/>
<path class="k" d="M1247.5,379.8 C1249,385 1250.5,389 1250,392 C1248,400 1245,406 1241,413" style='stroke-width:1.1'/>
<path class="k" d="M1249.5,389 C1256,396 1255,412 1246,419.7" style='stroke-width:1.1'/>
<path class="k" d="M1225,430 C1226,440 1228,448 1229.3,452 L1231.3,459.3" style='stroke-width:1.1'/>
<path class="k" d="M1232,430 C1232,440 1231,446 1230,450 L1233.3,459.3" style='stroke-width:1.1'/>
<path class="k" d="M1234,430 C1233,436 1231.5,441 1229,446" style='stroke-width:1'/>
<path class="w" d="M1222,422 L1227,420.5 L1250.3,420.7 L1250.3,427.7 L1236.7,430.3 L1222,430.3 Z" style='stroke-width:1.2'/>
<line class="k" x1="1236.70" y1="423.30" x2="1250.30" y2="420.70" />
<line class="k" x1="1236.70" y1="423.30" x2="1236.70" y2="430.30" />
<rect class="f" x="1222.20" y="422.20" width="14.30" height="7.80" rx="0.5" />
<rect class="wf" x="1224.50" y="424.00" width="1.00" height="4.00" />
<rect class="wf" x="1229.00" y="424.00" width="1.00" height="4.00" />
<rect class="wf" x="1233.50" y="424.00" width="1.00" height="4.00" />
<rect class="f" x="1226.10" y="412.30" width="4.40" height="8.00" rx="1.1" />
<rect class="wf" x="1227.60" y="414.70" width="1.20" height="4.80" />
<rect class="f" x="1230.80" y="412.50" width="4.40" height="8.00" rx="1.1" />
<rect class="wf" x="1232.30" y="414.90" width="1.20" height="4.80" />
<rect class="f" x="1236.30" y="413.30" width="4.40" height="8.00" rx="1.1" />
<rect class="wf" x="1237.80" y="415.70" width="1.20" height="4.80" />
<rect class="f" x="1241.30" y="414.30" width="4.40" height="8.00" rx="1.1" />
<rect class="wf" x="1242.80" y="416.70" width="1.20" height="4.80" />
<path class="k" d="M1274.7,411.4 L1261.6,433.6 L1288.6,433.6 Z" style='stroke-width:1.8;stroke-linejoin:round'/>
<path class="f" d="M1274.0,413.6 L1276.4,413.6 L1276.6,418.0 L1278.8,418.6 L1278.3,424.5 L1276.8,425.2 L1276.9,428.6 L1278.8,429.2 L1275.2,434 L1273.2,430.2 L1274.5,428.6 L1272.5,427.2 L1270.0,427.6 L1271.6,421.5 L1273.2,416.5 Z" />
<path class="wf" d="M1275.5,416.5 L1277.6,419.5 L1276,421.5 Z" />
<rect class="w" x="1045.50" y="598.50" width="38.50" height="37.80" style='stroke-width:1.4'/>
<rect class="g" x="1046.20" y="599.30" width="37.10" height="2.50" />
<rect class="f" x="1045.60" y="602.30" width="5.80" height="7.00" rx="2" />
<rect class="f" x="1078.30" y="602.20" width="3.70" height="7.10" rx="1" />
<rect class="wf" x="1079.50" y="603.80" width="1.20" height="3.70" />
<path class="k" d="M1050,607 C1055,608 1058,610 1057,615 C1055,619 1050,620 1046.5,620.5 C1040,621 1033,622.5 1028.5,624.5" style='stroke-width:2.8'/>
<path class="k" d="M1050,607 C1055,608 1058,610 1057,615 C1055,619 1050,620 1046.5,620.5 C1040,621 1033,622.5 1028.5,624.5" style='stroke-width:0.55;stroke:#fff'/>
<path class="k" d="M1062,606 C1057,608 1054,612 1053,616 C1051,620 1046,622.5 1042,624.5 C1038,626.5 1036,627.5 1034.5,628.5" style='stroke-width:2.8'/>
<path class="k" d="M1062,606 C1057,608 1054,612 1053,616 C1051,620 1046,622.5 1042,624.5 C1038,626.5 1036,627.5 1034.5,628.5" style='stroke-width:0.55;stroke:#fff'/>
<path class="k" d="M1067.5,618 C1070.5,613 1073,608 1078.5,606.5" style='stroke-width:2.2'/>
<path class="k" d="M1067.5,618 C1070.5,613 1073,608 1078.5,606.5" style='stroke-width:0.7;stroke:#fff'/>
<path class="k" d="M1046,621 L1062,621" style='stroke-width:0.9'/>
<path class="k" d="M1046,622.3 C1054,622.5 1059,626 1062,630" style='stroke-width:0.9'/>
<rect x="-4" y="-2.6" width="8" height="5.2" rx="1" transform="translate(1028,622) rotate(-40)" fill="#000"/>
<rect x="-4" y="-2.6" width="8" height="5.2" rx="1" transform="translate(1034.3,628.2) rotate(-40)" fill="#000"/>
<rect class="f" x="1061.30" y="596.00" width="7.40" height="5.50" />
<rect class="w" x="1063.20" y="601.50" width="4.00" height="7.50" style='stroke-width:0.9'/>
<rect class="f" x="1062.20" y="609.00" width="5.30" height="30.50" />
<rect class="w" x="1046.00" y="642.80" width="38.50" height="10.70" rx="0.6" style='stroke-width:1.3'/>
<rect class="f" x="1046.00" y="650.00" width="38.50" height="3.50" />
<path class="k" d="M1049,645.9 L1081.7,645.9" style='stroke-width:1.6'/>
<ellipse class="f" cx="1051.50" cy="646.60" rx="2.00" ry="1.00" />
<ellipse class="f" cx="1056.30" cy="646.60" rx="2.00" ry="1.00" />
<ellipse class="f" cx="1061.10" cy="646.60" rx="2.00" ry="1.00" />
<ellipse class="f" cx="1065.90" cy="646.60" rx="2.00" ry="1.00" />
<ellipse class="f" cx="1070.70" cy="646.60" rx="2.00" ry="1.00" />
<ellipse class="f" cx="1075.50" cy="646.60" rx="2.00" ry="1.00" />
<ellipse class="f" cx="1080.30" cy="646.60" rx="2.00" ry="1.00" />
<line class="k" x1="1065.40" y1="639.50" x2="1065.40" y2="645.00" style='stroke-width:1'/>
<rect class="f" x="1061.50" y="653.50" width="7.30" height="3.00" />
<rect class="wf" x="1063.80" y="654.30" width="2.60" height="1.30" />
<path class="k" d="M1061.84,665.10 A11.40,3.90 0 1 0 1067.92,665.19" style='stroke-width:1.1'/>
<path class="f" d="M1066.52,664.89 L1069.69,664.07 L1068.72,667.32Z"/>
<line class="k" x1="1064.80" y1="661.00" x2="1064.80" y2="671.50" style='stroke-width:1.2;stroke:#444'/>
<path class="f" d="M1064.80,658.10 L1066.60,661.60 L1063.00,661.60Z"/>
<circle class="n" cx="1084.30" cy="667.60" r="6.90" />
<text opacity="0.995" x="1084.30" y="671.38" font-size="10.5" text-anchor="middle" textLength="5.7" lengthAdjust="spacingAndGlyphs" style="stroke:#000;stroke-width:0.35">7</text>
<circle class="n" cx="1111.90" cy="618.40" r="6.70" />
<text opacity="0.995" x="1111.90" y="622.18" font-size="10.5" text-anchor="middle" textLength="5.7" lengthAdjust="spacingAndGlyphs" style="stroke:#000;stroke-width:0.35">4</text>
<path class="k" d="M1092.38,622.93 A3.40,11.20 0 1 1 1092.38,613.47" style='stroke-width:1.1'/>
<path class="f" d="M1092.28,620.93 L1093.98,623.73 L1090.58,623.73Z"/>
<line class="k" x1="1086.00" y1="618.40" x2="1098.00" y2="618.40" />
<path class="f" d="M1100.90,618.40 L1097.70,620.20 L1097.70,616.60Z"/>
<circle class="n" cx="1016.50" cy="635.50" r="7.20" />
<text opacity="0.995" x="1016.50" y="639.28" font-size="10.5" text-anchor="middle" textLength="5.7" lengthAdjust="spacingAndGlyphs" style="stroke:#000;stroke-width:0.35">8</text>
<line x1="1047.5" y1="683.1" x2="1083" y2="683.1" stroke="#000" stroke-width="1.7" stroke-linecap="round"/>
<rect class="w" x="1046.80" y="686.90" width="36.90" height="3.20" rx="1.5" style='stroke-width:1.3;stroke:#333'/>
<path class="k" d="M1063.60,699.94 A11.10,3.55 0 1 0 1069.53,700.02" style='stroke-width:1.1'/>
<path class="f" d="M1068.13,699.72 L1071.30,698.90 L1070.32,702.16Z"/>
<line class="k" x1="1066.50" y1="694.50" x2="1066.50" y2="706.10" style='stroke-width:1.1'/>
<path class="f" d="M1066.50,691.70 L1068.30,695.20 L1064.70,695.20Z"/>
<circle class="n" cx="1086.10" cy="702.00" r="6.90" />
<text opacity="0.995" x="1086.10" y="705.78" font-size="10.5" text-anchor="middle" textLength="5.7" lengthAdjust="spacingAndGlyphs" style="stroke:#000;stroke-width:0.35">9</text>
<line class="k" x1="1180.00" y1="691.00" x2="1180.00" y2="878.00" style='stroke-width:1.15'/>
<line class="k" x1="1184.50" y1="691.00" x2="1184.50" y2="878.00" style='stroke-width:1.15'/>
<line class="k" x1="1130.50" y1="760.00" x2="1130.50" y2="946.00" style='stroke-width:1.15'/>
<line class="k" x1="1135.00" y1="760.00" x2="1135.00" y2="946.00" style='stroke-width:1.15'/>
<line class="k" x1="1030.00" y1="791.30" x2="1216.00" y2="791.30" style='stroke-width:1.15'/>
<line class="k" x1="1030.00" y1="796.50" x2="1216.00" y2="796.50" style='stroke-width:1.15'/>
<line class="k" x1="1099.00" y1="841.50" x2="1285.00" y2="841.50" style='stroke-width:1.15'/>
<line class="k" x1="1099.00" y1="845.80" x2="1285.00" y2="845.80" style='stroke-width:1.15'/>
<rect class="w" x="1179.10" y="692.10" width="6.60" height="9.30" style='stroke-width:1.2'/>
<rect class="w" x="1179.10" y="868.30" width="6.60" height="9.20" style='stroke-width:1.2'/>
<rect class="w" x="1129.50" y="760.20" width="6.60" height="9.20" style='stroke-width:1.2'/>
<rect class="w" x="1129.50" y="936.00" width="6.60" height="9.50" style='stroke-width:1.2'/>
<rect class="w" x="1030.50" y="790.70" width="9.50" height="6.60" style='stroke-width:1.2'/>
<rect class="w" x="1206.60" y="790.70" width="9.10" height="6.60" style='stroke-width:1.2'/>
<rect class="w" x="1099.10" y="840.30" width="9.40" height="6.60" style='stroke-width:1.2'/>
<rect class="w" x="1274.60" y="840.30" width="9.40" height="6.60" style='stroke-width:1.2'/>
<circle class="w" cx="1182.50" cy="656.50" r="35.00" style='stroke-width:1.45'/>
<circle class="k" cx="1182.50" cy="656.50" r="32.60" style='stroke-width:1.3'/>
<circle class="w" cx="995.90" cy="793.60" r="35.00" style='stroke-width:1.45'/>
<circle class="k" cx="995.90" cy="793.60" r="32.60" style='stroke-width:1.3'/>
<circle class="w" cx="1133.00" cy="980.50" r="35.00" style='stroke-width:1.45'/>
<circle class="k" cx="1133.00" cy="980.50" r="32.60" style='stroke-width:1.3'/>
<circle class="w" cx="1132.50" cy="740.90" r="19.00" style='stroke-width:1.3'/>
<circle class="w" cx="1234.60" cy="793.70" r="19.00" style='stroke-width:1.3'/>
<circle class="w" cx="1079.90" cy="843.40" r="19.00" style='stroke-width:1.3'/>
<circle class="w" cx="1182.50" cy="896.30" r="19.00" style='stroke-width:1.3'/>
<rect class="w" x="1154.60" y="795.40" width="6.00" height="4.80" rx="1.2" style='stroke-width:1.2'/>
<rect class="w" x="1154.60" y="837.50" width="6.00" height="4.80" rx="1.2" style='stroke-width:1.2'/>
<rect class="w" x="1134.00" y="815.50" width="5.10" height="6.00" rx="1.2" style='stroke-width:1.2'/>
<rect class="w" x="1176.30" y="815.50" width="4.90" height="6.00" rx="1.2" style='stroke-width:1.2'/>
<circle class="w" cx="1157.40" cy="818.60" r="18.70" style='stroke-width:1.3'/>
<path class="w" d="M1152.3,847 L1150,852.5 L1151.4,852.5 L1151.4,858 L1153.2,858 L1153.2,852.5 L1154.6,852.5 Z" style='stroke-width:1'/>
<rect class="f" x="1151.30" y="857.50" width="2.00" height="7.70" />
<circle class="n" cx="1167.10" cy="857.50" r="6.80" />
<text opacity="0.995" x="1167.10" y="861.28" font-size="10.5" text-anchor="middle" textLength="5.7" lengthAdjust="spacingAndGlyphs" style="stroke:#000;stroke-width:0.35">4</text>
<circle class="w" cx="1319.50" cy="843.50" r="35.00" style='stroke-width:1.3'/>
<circle class="k" cx="1319.50" cy="843.50" r="32.60" style='stroke-width:1.2'/>
<circle class="k" cx="1319.30" cy="843.50" r="23.70" style='stroke-width:1.4'/>
<circle class="w" cx="1339.00" cy="843.50" r="2.85" style='stroke-width:1.3'/>
<circle class="f" cx="1339.00" cy="843.50" r="0.85" />
<circle class="w" cx="1336.36" cy="853.35" r="2.85" style='stroke-width:1.3'/>
<circle class="f" cx="1336.36" cy="853.35" r="0.85" />
<circle class="w" cx="1329.15" cy="860.56" r="2.85" style='stroke-width:1.3'/>
<circle class="f" cx="1329.15" cy="860.56" r="0.85" />
<circle class="w" cx="1319.30" cy="863.20" r="2.85" style='stroke-width:1.3'/>
<circle class="f" cx="1319.30" cy="863.20" r="0.85" />
<circle class="w" cx="1309.45" cy="860.56" r="2.85" style='stroke-width:1.3'/>
<circle class="f" cx="1309.45" cy="860.56" r="0.85" />
<circle class="w" cx="1302.24" cy="853.35" r="2.85" style='stroke-width:1.3'/>
<circle class="f" cx="1302.24" cy="853.35" r="0.85" />
<circle class="w" cx="1299.60" cy="843.50" r="2.85" style='stroke-width:1.3'/>
<circle class="f" cx="1299.60" cy="843.50" r="0.85" />
<circle class="w" cx="1302.24" cy="833.65" r="2.85" style='stroke-width:1.3'/>
<circle class="f" cx="1302.24" cy="833.65" r="0.85" />
<circle class="w" cx="1309.45" cy="826.44" r="2.85" style='stroke-width:1.3'/>
<circle class="f" cx="1309.45" cy="826.44" r="0.85" />
<circle class="w" cx="1319.30" cy="823.80" r="2.85" style='stroke-width:1.3'/>
<circle class="f" cx="1319.30" cy="823.80" r="0.85" />
<circle class="w" cx="1329.15" cy="826.44" r="2.85" style='stroke-width:1.3'/>
<circle class="f" cx="1329.15" cy="826.44" r="0.85" />
<circle class="w" cx="1336.36" cy="833.65" r="2.85" style='stroke-width:1.3'/>
<circle class="f" cx="1336.36" cy="833.65" r="0.85" />
<circle class="w" cx="1321.50" cy="835.30" r="2.85" style='stroke-width:1.3'/>
<circle class="f" cx="1321.50" cy="835.30" r="0.85" />
<circle class="w" cx="1311.20" cy="841.00" r="2.85" style='stroke-width:1.3'/>
<circle class="f" cx="1311.20" cy="841.00" r="0.85" />
<circle class="w" cx="1326.80" cy="845.90" r="2.85" style='stroke-width:1.3'/>
<circle class="f" cx="1326.80" cy="845.90" r="0.85" />
<circle class="w" cx="1316.70" cy="851.40" r="2.85" style='stroke-width:1.3'/>
<circle class="f" cx="1316.70" cy="851.40" r="0.85" />
<circle class="w" cx="1319.10" cy="843.50" r="2.50" style='stroke-width:1.2'/>
<rect x="1304.90" y="843.90" width="3.6" height="2.8" transform="rotate(-40 1306.7 845.3)" fill="#fff" stroke="#000" stroke-width="1.1"/>
<rect x="1327.85" y="837.60" width="2.9" height="4.4" transform="rotate(20 1329.3 839.8)" fill="#fff" stroke="#000" stroke-width="1.1"/>
<rect x="1312.80" y="853.60" width="2.4" height="5.0" transform="rotate(-35 1314 856.1)" fill="#fff" stroke="#000" stroke-width="1.1"/>
<rect x="1322.20" y="848.00" width="2.4" height="4.8" transform="rotate(-40 1323.4 850.4)" fill="#fff" stroke="#000" stroke-width="1.1"/>
<rect x="1313.30" y="833.40" width="1.8" height="3.0" transform="rotate(-35 1314.2 834.9)" fill="#fff" stroke="#000" stroke-width="1.1"/>
<circle class="f" cx="1310.80" cy="850.80" r="0.90" />
<circle class="f" cx="1330.90" cy="847.80" r="0.90" />
<circle class="f" cx="1304.80" cy="848.20" r="0.80" />
<circle class="n" cx="1334.60" cy="777.70" r="6.80" />
<text opacity="0.995" x="1334.60" y="781.48" font-size="10.5" text-anchor="middle" textLength="5.7" lengthAdjust="spacingAndGlyphs" style="stroke:#000;stroke-width:0.35">3</text>
<line class="k" x1="1319.00" y1="793.00" x2="1337.60" y2="793.00" style='stroke-width:1.9;stroke-linecap:round'/>
<path d="M1313.8,793 L1319.2,790.6 L1319.2,795.4 Z" fill="#fff" stroke="#000" stroke-width="1.3" stroke-linejoin="round"/>
<path class="k" d="M1324.6,787.6 C1324.8,784.6 1327.6,783.4 1328.7,785.8 C1330.4,789.5 1330.3,798.5 1328.6,802 C1327.4,804.4 1324.9,803.3 1324.5,799.6" style='stroke-width:1.9'/>
<path class="f" d="M1323.2,786.6 L1325.8,784.6 L1326.2,787.8 Z" />
<path class="f" d="M1322.8,798.6 L1325.6,797 L1325.4,800.4 Z" />
<path class="w" d="M1207.9,909.6 A16.85,10.4 0 0 1 1241.6,909.6 Z" style="stroke-width:1.3"/>
<circle class="f" cx="1223.25" cy="905.15" r="1.45" />
<circle class="f" cx="1223.67" cy="904.72" r="1.25" />
<circle class="f" cx="1214.82" cy="904.75" r="1.28" />
<circle class="f" cx="1234.50" cy="906.26" r="0.93" />
<circle class="f" cx="1229.60" cy="905.61" r="0.99" />
<circle class="f" cx="1223.61" cy="904.16" r="1.41" />
<circle class="f" cx="1225.35" cy="905.81" r="1.20" />
<circle class="f" cx="1229.87" cy="904.30" r="1.07" />
<circle class="f" cx="1235.47" cy="906.37" r="1.09" />
<circle class="f" cx="1216.23" cy="902.90" r="0.94" />
<circle class="f" cx="1233.14" cy="903.82" r="1.41" />
<circle class="f" cx="1221.18" cy="908.45" r="1.41" />
<circle class="f" cx="1211.30" cy="905.72" r="1.37" />
<circle class="f" cx="1219.48" cy="908.50" r="1.35" />
<circle class="f" cx="1226.62" cy="904.21" r="1.01" />
<circle class="f" cx="1229.28" cy="901.47" r="1.15" />
<circle class="f" cx="1215.71" cy="902.74" r="1.48" />
<circle class="f" cx="1234.31" cy="903.02" r="1.43" />
<circle class="f" cx="1215.64" cy="903.77" r="1.41" />
<circle class="f" cx="1229.22" cy="901.33" r="1.49" />
<circle class="f" cx="1215.72" cy="902.64" r="1.36" />
<circle class="f" cx="1219.36" cy="902.96" r="0.94" />
<circle class="f" cx="1211.84" cy="905.34" r="1.05" />
<circle class="f" cx="1227.94" cy="903.59" r="1.17" />
<circle class="f" cx="1227.10" cy="907.69" r="1.01" />
<circle class="f" cx="1213.86" cy="908.04" r="1.39" />
<circle class="f" cx="1216.86" cy="902.08" r="1.34" />
<circle class="f" cx="1238.93" cy="907.82" r="1.26" />
<circle class="f" cx="1222.28" cy="901.36" r="0.92" />
<circle class="f" cx="1231.19" cy="902.63" r="1.39" />
<circle class="f" cx="1227.79" cy="902.94" r="1.01" />
<circle class="f" cx="1216.19" cy="905.14" r="1.41" />
<circle class="f" cx="1228.35" cy="902.83" r="1.45" />
<circle class="f" cx="1217.48" cy="904.20" r="0.94" />
<line class="k" x1="1209.00" y1="908.60" x2="1240.50" y2="908.60" style='stroke-width:1.2;stroke-dasharray:1.5 0.8'/>
<rect class="w" x="1206.20" y="910.30" width="37.40" height="2.80" style='stroke-width:1.1'/>
<rect class="w" x="1206.20" y="916.00" width="37.40" height="26.30" style='stroke-width:1.3'/>
<line class="k" x1="1206.20" y1="929.50" x2="1243.60" y2="929.50" style='stroke-width:1.2'/>
<ellipse class="f" cx="1209.50" cy="929.60" rx="2.00" ry="2.20" />
<ellipse class="f" cx="1212.85" cy="929.60" rx="2.00" ry="2.20" />
<ellipse class="f" cx="1216.20" cy="929.60" rx="2.00" ry="2.20" />
<ellipse class="f" cx="1219.55" cy="929.60" rx="2.00" ry="2.20" />
<ellipse class="f" cx="1222.90" cy="929.60" rx="2.00" ry="2.20" />
<ellipse class="f" cx="1226.25" cy="929.60" rx="2.00" ry="2.20" />
<ellipse class="f" cx="1229.60" cy="929.60" rx="2.00" ry="2.20" />
<ellipse class="f" cx="1232.95" cy="929.60" rx="2.00" ry="2.20" />
<ellipse class="f" cx="1236.30" cy="929.60" rx="2.00" ry="2.20" />
<ellipse class="f" cx="1239.65" cy="929.60" rx="2.00" ry="2.20" />
<rect class="f" x="1206.20" y="949.30" width="37.40" height="2.50" />
<path class="k" d="M1211.30,969.00 A10.20,3.30 0 0 0 1231.70,969.00" style='stroke-width:2.2'/>
<path class="k" d="M1211.30,969.00 A10.20,3.30 0 0 1 1216.40,966.14" style='stroke-width:1.9'/>
<path class="k" d="M1231.70,969.00 A10.20,3.30 0 0 0 1227.35,966.30" style='stroke-width:1.9'/>
<path class="f" d="M1218.00,965.94 L1214.83,967.53 L1215.20,963.75Z"/>
<path class="f" d="M1225.95,966.90 L1227.88,964.53 L1228.93,967.55Z"/>
<line class="k" x1="1221.80" y1="961.00" x2="1221.80" y2="980.50" style='stroke-width:1.5'/>
<path class="w" d="M1221.80,956.30 L1223.70,960.80 L1219.90,960.80Z"/>
<circle class="n" cx="1240.30" cy="968.20" r="6.90" />
<text opacity="0.995" x="1240.30" y="971.98" font-size="10.5" text-anchor="middle" textLength="5.7" lengthAdjust="spacingAndGlyphs" style="stroke:#000;stroke-width:0.35">6</text>
<path class="k" d="M1236.20,890.30 A9.60,3.40 0 0 0 1255.40,890.30" style='stroke-width:2.2'/>
<path class="k" d="M1236.20,890.30 A9.60,3.40 0 0 1 1241.00,887.36" style='stroke-width:1.9'/>
<path class="k" d="M1255.40,890.30 A9.60,3.40 0 0 0 1251.31,887.51" style='stroke-width:1.9'/>
<path class="f" d="M1242.60,887.16 L1239.43,888.75 L1239.80,884.97Z"/>
<path class="f" d="M1249.91,888.11 L1251.83,885.75 L1252.89,888.77Z"/>
<line class="k" x1="1245.30" y1="878.60" x2="1245.30" y2="898.50" style='stroke-width:1.5'/>
<path class="w" d="M1245.30,902.90 L1243.40,898.40 L1247.20,898.40Z"/>
<circle class="n" cx="1265.00" cy="891.20" r="6.90" />
<text opacity="0.995" x="1265.00" y="894.98" font-size="10.5" text-anchor="middle" textLength="5.7" lengthAdjust="spacingAndGlyphs" style="stroke:#000;stroke-width:0.35">5</text>
<rect class="w" x="1286.60" y="890.30" width="70.10" height="13.90" rx="1" style='stroke-width:1.3'/>
<rect class="f" x="1286.60" y="901.80" width="70.10" height="2.60" />
<path class="k" d="M1298.50,890.6 A3,1.6 0 0 0 1304.50,890.6" style='stroke-width:1'/>
<path class="k" d="M1308.50,890.6 A3,1.6 0 0 0 1314.50,890.6" style='stroke-width:1'/>
<path class="k" d="M1318.50,890.6 A3,1.6 0 0 0 1324.50,890.6" style='stroke-width:1'/>
<path class="k" d="M1328.50,890.6 A3,1.6 0 0 0 1334.50,890.6" style='stroke-width:1'/>
<path class="k" d="M1338.50,890.6 A3,1.6 0 0 0 1344.50,890.6" style='stroke-width:1'/>
<rect class="w" x="1316.80" y="886.80" width="5.80" height="3.50" style='stroke-width:1'/>
<path class="w" d="M1319.8,910.3 L1317.5,915.5 L1318.8,915.5 L1318.8,927.6 L1320.8,927.6 L1320.8,915.5 L1322.1,915.5 Z" style='stroke-width:1'/>
<rect class="f" x="1318.80" y="920.00" width="2.00" height="7.60" />
<circle class="n" cx="1332.90" cy="916.90" r="6.80" />
<text opacity="0.995" x="1332.90" y="920.68" font-size="10.5" text-anchor="middle" textLength="5.7" lengthAdjust="spacingAndGlyphs" style="stroke:#000;stroke-width:0.35">6</text>
<ellipse class="k" cx="1524.00" cy="418.75" rx="61.50" ry="39.45" style='stroke-width:1.2'/>
<path class="f" d="M1508.00,384.80 Q1509.60,383.60 1511.20,384.80 L1511.70,387.20 L1511.20,388.80 L1513.10,391.30 L1511.80,391.90 L1507.40,391.90 L1506.10,391.30 L1508.00,388.80 L1507.50,387.20 Z" />
<rect class="w" x="1507.85" y="391.90" width="3.50" height="8.70" style='stroke-width:1.1;stroke:#333'/>
<rect class="f" x="1507.40" y="398.50" width="4.40" height="2.10" rx="0.5" />
<path class="f" d="M1541.80,384.80 Q1543.40,383.60 1545.00,384.80 L1545.50,387.20 L1545.00,388.80 L1546.90,391.30 L1545.60,391.90 L1541.20,391.90 L1539.90,391.30 L1541.80,388.80 L1541.30,387.20 Z" />
<rect class="w" x="1541.65" y="391.90" width="3.50" height="8.70" style='stroke-width:1.1;stroke:#333'/>
<rect class="f" x="1541.20" y="398.50" width="4.40" height="2.10" rx="0.5" />
<path class="k" d="M1493.20,419.40 L1493.20,407.30 L1559.30,407.30 L1559.30,419.40" style='stroke-width:1.7;stroke-linejoin:miter'/>
<path class="f" d="M1508.60,412.10 Q1509.50,410.40 1510.40,412.10 L1511.20,413.90 L1511.00,426.30 L1513.10,426.60 L1511.30,429.90 L1507.70,429.90 L1505.90,426.60 L1508.00,426.30 L1507.80,413.90 Z" />
<path class="f" d="M1542.40,412.10 Q1543.30,410.40 1544.20,412.10 L1545.00,413.90 L1544.80,426.30 L1546.90,426.60 L1545.10,429.90 L1541.50,429.90 L1539.70,426.60 L1541.80,426.30 L1541.60,413.90 Z" />
<path class="k" d="M1511.74,438.57 A10.15,3.50 0 1 1 1506.32,438.49" style='stroke-width:1.1'/>
<path class="f" d="M1507.72,438.19 L1505.52,440.62 L1504.55,437.37Z"/>
<line class="k" x1="1508.60" y1="445.22" x2="1508.60" y2="434.50" style='stroke-width:1'/>
<path class="f" d="M1508.60,431.50 L1510.20,434.70 L1507.00,434.70Z"/>
<circle class="n" cx="1477.50" cy="429.25" r="6.80" />
<path d="M1476.29,427.49 L1478.10,425.98 L1478.10,432.82" fill="none" stroke="#000" stroke-width="1.5" stroke-linejoin="miter" stroke-linecap="butt"/>
<defs><pattern id="hatch" patternUnits="userSpaceOnUse" width="3.55" height="3.55" patternTransform="rotate(45)"><line x1="1" y1="0" x2="1" y2="3.55" stroke="#000" stroke-width="1.15"/></pattern></defs>
<rect class="w" x="1457.90" y="468.40" width="132.85" height="102.90" style='stroke-width:1.3'/>
<rect class="k" x="1457.70" y="468.25" width="61.50" height="27.00" style='fill:url(#hatch);stroke-width:1.3'/>
<rect class="k" x="1528.50" y="468.25" width="62.25" height="27.00" style='fill:url(#hatch);stroke-width:1.3'/>
<line class="k" x1="1520.90" y1="468.50" x2="1520.48" y2="508.00" style='stroke-width:1.3'/>
<line class="k" x1="1522.60" y1="468.50" x2="1522.38" y2="508.00" style='stroke-width:0.8'/>
<line class="k" x1="1524.40" y1="468.50" x2="1524.40" y2="508.00" style='stroke-width:0.8'/>
<line class="k" x1="1526.10" y1="468.50" x2="1526.30" y2="508.00" style='stroke-width:0.8'/>
<line class="k" x1="1527.80" y1="468.50" x2="1528.21" y2="508.00" style='stroke-width:1.3'/>
<line class="k" x1="1457.70" y1="495.25" x2="1590.75" y2="495.25" style='stroke-width:1.3'/>
<path class="f" d="M1502.90,501.10 Q1504.50,499.90 1506.10,501.10 L1506.60,503.50 L1506.10,505.10 L1508.00,507.60 L1506.70,508.20 L1502.30,508.20 L1501.00,507.60 L1502.90,505.10 L1502.40,503.50 Z" />
<rect class="w" x="1502.75" y="508.20" width="3.50" height="8.05" style='stroke-width:1.1;stroke:#333'/>
<rect class="f" x="1502.30" y="514.15" width="4.40" height="2.10" rx="0.5" />
<path class="f" d="M1541.90,501.10 Q1543.50,499.90 1545.10,501.10 L1545.60,503.50 L1545.10,505.10 L1547.00,507.60 L1545.70,508.20 L1541.30,508.20 L1540.00,507.60 L1541.90,505.10 L1541.40,503.50 Z" />
<rect class="w" x="1541.75" y="508.20" width="3.50" height="8.05" style='stroke-width:1.1;stroke:#333'/>
<rect class="f" x="1541.30" y="514.15" width="4.40" height="2.10" rx="0.5" />
<path class="k" d="M1483.50,531.25 L1483.50,519.70 L1564.50,519.70 L1564.50,531.25" style='stroke-width:1.7;stroke-linejoin:miter'/>
<path class="f" d="M1503.60,524.20 Q1504.50,522.50 1505.40,524.20 L1506.20,526.00 L1506.00,536.65 L1508.10,536.95 L1506.30,540.25 L1502.70,540.25 L1500.90,536.95 L1503.00,536.65 L1502.80,526.00 Z" />
<path class="f" d="M1542.60,524.20 Q1543.50,522.50 1544.40,524.20 L1545.20,526.00 L1545.00,536.65 L1547.10,536.95 L1545.30,540.25 L1541.70,540.25 L1539.90,536.95 L1542.00,536.65 L1541.80,526.00 Z" />
<path class="k" d="M1506.72,551.17 A10.10,3.40 0 1 1 1501.33,551.09" style='stroke-width:1.1'/>
<path class="f" d="M1502.73,550.79 L1500.53,553.22 L1499.56,549.96Z"/>
<line class="k" x1="1503.60" y1="557.63" x2="1503.60" y2="547.00" style='stroke-width:1'/>
<path class="f" d="M1503.60,544.00 L1505.20,547.20 L1502.00,547.20Z"/>
<path class="k" d="M1547.22,551.17 A10.10,3.40 0 1 1 1541.83,551.09" style='stroke-width:1.1'/>
<path class="f" d="M1543.23,550.79 L1541.03,553.22 L1540.06,549.96Z"/>
<line class="k" x1="1544.10" y1="557.63" x2="1544.10" y2="547.00" style='stroke-width:1'/>
<path class="f" d="M1544.10,544.00 L1545.70,547.20 L1542.50,547.20Z"/>
<text opacity="0.995" x="1463.25" y="566.50" font-size="10" textLength="7.60" lengthAdjust="spacingAndGlyphs" text-anchor="start" >A</text>
<rect class="w" x="1457.50" y="582.75" width="134.10" height="104.15" style='stroke-width:1.3'/>
<rect class="k" x="1457.50" y="582.75" width="63.25" height="26.95" style='fill:url(#hatch);stroke-width:1.3'/>
<rect class="k" x="1528.30" y="582.75" width="63.30" height="26.95" style='fill:url(#hatch);stroke-width:1.3'/>
<line class="k" x1="1521.30" y1="583.00" x2="1520.64" y2="622.90" style='stroke-width:1.3'/>
<line class="k" x1="1523.00" y1="583.00" x2="1522.68" y2="622.90" style='stroke-width:0.8'/>
<line class="k" x1="1524.60" y1="583.00" x2="1524.60" y2="622.90" style='stroke-width:0.8'/>
<line class="k" x1="1526.20" y1="583.00" x2="1526.52" y2="622.90" style='stroke-width:0.8'/>
<line class="k" x1="1527.90" y1="583.00" x2="1528.56" y2="622.90" style='stroke-width:1.3'/>
<line class="k" x1="1457.50" y1="609.70" x2="1591.60" y2="609.70" style='stroke-width:1.6'/>
<line class="k" x1="1483.40" y1="609.70" x2="1483.40" y2="621.50" style='stroke-width:1.4'/>
<line class="k" x1="1565.10" y1="609.70" x2="1565.10" y2="621.50" style='stroke-width:1.4'/>
<rect class="w" x="1481.40" y="630.40" width="85.20" height="14.20" style='stroke-width:1.3'/>
<text opacity="0.995" x="1461.50" y="682.90" font-size="10.3" textLength="7.40" lengthAdjust="spacingAndGlyphs" text-anchor="start" >B</text>
<line class="d" x1="1452.75" y1="792.25" x2="1552.50" y2="735.25" />
<path class="f" d="M1452.75,792.25 L1455.09,789.30 L1456.48,791.73Z"/>
<path class="f" d="M1552.50,735.25 L1550.16,738.20 L1548.77,735.77Z"/>
<line class="d" x1="1452.75" y1="792.25" x2="1485.75" y2="846.25" />
<path class="d" d="M1552.5,735.25 L1564.5,756 C1570,768 1575,782 1581,789.25" />
<text opacity="0.995" x="0" y="0" font-size="12.3" text-anchor="middle" textLength="39" lengthAdjust="spacingAndGlyphs" transform="translate(1504.3,761.8) rotate(-29.7)">115mm</text>
<path class="w" d="M1485.75,846.25 L1581.75,791.2 L1595.25,798.25 L1499.25,853.75 Z" style='stroke-width:1.1'/>
<line class="k" x1="1499.25" y1="853.75" x2="1595.25" y2="798.25" style='stroke-width:2.4;stroke:#444'/>
<line class="k" x1="1499.25" y1="853.75" x2="1595.25" y2="798.25" style='stroke-width:0.5;stroke:#bbb'/>
<path class="w" d="M1485.75,846.25 L1485,865 L1499.25,868 L1499.25,853.75" style='stroke-width:1.1'/>
<path class="k" d="M1595.25,798.25 L1595.25,811.75 L1585.5,807.25" style='stroke-width:1.1'/>
<line class="k" x1="1499.25" y1="868.00" x2="1502.00" y2="866.50" style='stroke-width:1.1'/>
<circle class="w" cx="1492.20" cy="858.20" r="2.20" style='stroke-width:1'/>
<ellipse cx="1514.2" cy="838.6" rx="3.3" ry="1.7" transform="rotate(-28 1514.2 838.6)" fill="#fff" stroke="#000" stroke-width="1.6"/>
<ellipse cx="1530.2" cy="829.8" rx="3.6" ry="2.0" transform="rotate(-28 1530.2 829.8)" fill="#fff" stroke="#000" stroke-width="0.9"/>
<ellipse cx="1543.2" cy="821" rx="5.2" ry="2.4" transform="rotate(-28 1543.2 821)" fill="#fff" stroke="#000" stroke-width="0.9"/>
<ellipse cx="1569" cy="806" rx="3.3" ry="1.7" transform="rotate(-28 1569 806)" fill="#fff" stroke="#000" stroke-width="1.6"/>
<line x1="1491.75" y1="858.25" x2="1476.08" y2="867.74" stroke="#000" stroke-width="1"/>
<line x1="1477.50" y1="866.88" x2="1463.25" y2="875.50" stroke="#000" stroke-width="3.2" stroke-dasharray="0.9 0.6"/>
<line x1="1464.80" y1="878.07" x2="1461.70" y2="872.93" stroke="#000" stroke-width="2.6" stroke-linecap="round"/>
<line x1="1594.50" y1="797.50" x2="1606.88" y2="788.42" stroke="#000" stroke-width="1"/>
<line x1="1605.75" y1="789.25" x2="1617.00" y2="781.00" stroke="#000" stroke-width="3.2" stroke-dasharray="0.9 0.6"/>
<line x1="1615.23" y1="778.58" x2="1618.77" y2="783.42" stroke="#000" stroke-width="2.6" stroke-linecap="round"/>
<line class="k" x1="1515.20" y1="814.00" x2="1515.20" y2="850.00" style='stroke-width:1.1'/>
<line class="k" x1="1568.70" y1="784.00" x2="1568.70" y2="900.25" style='stroke-width:1.1'/>
<path class="w" d="M1511.10,792.06 L1511.10,778.20 Q1511.10,774.20 1515.20,774.20 Q1519.30,774.20 1519.30,778.20 L1519.30,792.06 Z" style='stroke-width:1.2'/>
<path class="k" d="M1511.10,777.40 q1.2,1.2 0,2.4 M1519.30,777.40 q-1.2,1.2 0,2.4" style='stroke-width:0.9'/>
<path class="k" d="M1511.10,780.17 q1.2,1.2 0,2.4 M1519.30,780.17 q-1.2,1.2 0,2.4" style='stroke-width:0.9'/>
<path class="k" d="M1511.10,782.95 q1.2,1.2 0,2.4 M1519.30,782.95 q-1.2,1.2 0,2.4" style='stroke-width:0.9'/>
<path class="k" d="M1511.10,785.72 q1.2,1.2 0,2.4 M1519.30,785.72 q-1.2,1.2 0,2.4" style='stroke-width:0.9'/>
<path class="k" d="M1511.10,788.49 q1.2,1.2 0,2.4 M1519.30,788.49 q-1.2,1.2 0,2.4" style='stroke-width:0.9'/>
<rect class="w" x="1510.30" y="792.06" width="9.80" height="22.74" style='stroke-width:1.2'/>
<ellipse cx="1515.20" cy="792.06" rx="6.4" ry="1.5" fill="#fff" stroke="#000" stroke-width="1.3"/>
<line class="k" x1="1515.20" y1="776.70" x2="1515.20" y2="795.56" style='stroke-width:1.5'/>
<line class="k" x1="1515.20" y1="801.06" x2="1515.20" y2="813.80" style='stroke-width:1.2'/>
<ellipse cx="1515.20" cy="814.00" rx="5.1" ry="1.6" fill="#000"/>
<path class="w" d="M1564.60,761.08 L1564.60,747.30 Q1564.60,743.30 1568.70,743.30 Q1572.80,743.30 1572.80,747.30 L1572.80,761.08 Z" style='stroke-width:1.2'/>
<path class="k" d="M1564.60,746.50 q1.2,1.2 0,2.4 M1572.80,746.50 q-1.2,1.2 0,2.4" style='stroke-width:0.9'/>
<path class="k" d="M1564.60,749.26 q1.2,1.2 0,2.4 M1572.80,749.26 q-1.2,1.2 0,2.4" style='stroke-width:0.9'/>
<path class="k" d="M1564.60,752.01 q1.2,1.2 0,2.4 M1572.80,752.01 q-1.2,1.2 0,2.4" style='stroke-width:0.9'/>
<path class="k" d="M1564.60,754.77 q1.2,1.2 0,2.4 M1572.80,754.77 q-1.2,1.2 0,2.4" style='stroke-width:0.9'/>
<path class="k" d="M1564.60,757.52 q1.2,1.2 0,2.4 M1572.80,757.52 q-1.2,1.2 0,2.4" style='stroke-width:0.9'/>
<rect class="w" x="1563.80" y="761.08" width="9.80" height="22.62" style='stroke-width:1.2'/>
<ellipse cx="1568.70" cy="761.08" rx="6.4" ry="1.5" fill="#fff" stroke="#000" stroke-width="1.3"/>
<line class="k" x1="1568.70" y1="745.80" x2="1568.70" y2="764.58" style='stroke-width:1.5'/>
<line class="k" x1="1568.70" y1="770.08" x2="1568.70" y2="782.70" style='stroke-width:1.2'/>
<ellipse cx="1568.70" cy="782.90" rx="5.1" ry="1.6" fill="#000"/>
<path class="f" d="M1514.50,848.90 L1515.90,848.90 L1516.90,852.40 L1517.30,871.30 L1513.10,871.30 L1513.50,852.40 Z" />
<ellipse cx="1515.20" cy="872.50" rx="4.1" ry="2.0" fill="#000"/>
<path d="M1512.20,873.10 Q1515.20,874.60 1518.20,873.10" fill="none" stroke="#fff" stroke-width="0.6"/>
<path class="f" d="M1568.00,819.40 L1569.40,819.40 L1570.40,822.90 L1570.80,842.30 L1566.60,842.30 L1567.00,822.90 Z" />
<ellipse cx="1568.70" cy="843.50" rx="4.1" ry="2.0" fill="#000"/>
<path d="M1565.70,844.10 Q1568.70,845.60 1571.70,844.10" fill="none" stroke="#fff" stroke-width="0.6"/>
<path class="k" d="M1564.76,918.89 A17.50,5.50 0 1 0 1574.11,919.02" style='stroke-width:1.1'/>
<path class="f" d="M1572.71,918.72 L1575.88,917.90 L1574.90,921.15Z"/>
<line class="k" x1="1568.70" y1="929.60" x2="1568.70" y2="909.00" style='stroke-width:1.1'/>
<path class="f" d="M1568.70,906.25 L1570.40,909.45 L1567.00,909.45Z"/>
<circle class="n" cx="1598.70" cy="924.25" r="5.60" />
<path d="M1597.81,922.80 L1599.30,921.61 L1599.30,927.19" fill="none" stroke="#000" stroke-width="1.5" stroke-linejoin="miter" stroke-linecap="butt"/>
<line class="d" x1="1468.40" y1="957.20" x2="1598.40" y2="957.20" />
<line class="d" x1="1468.40" y1="955.00" x2="1468.40" y2="976.50" />
<line class="d" x1="1598.40" y1="955.00" x2="1598.40" y2="976.50" />
<text opacity="0.995" x="1534.30" y="953.80" font-size="10" textLength="39.40" lengthAdjust="spacingAndGlyphs" text-anchor="middle" >120mm</text>
<path class="w" d="M1468.4,976.5 L1598.4,976.5 L1598.4,996.7 Q1598.4,998.2 1596.9,998.2 L1469.9,998.2 Q1468.4,998.2 1468.4,996.7 Z" style='stroke-width:1.3'/>
<circle class="k" cx="1533.40" cy="983.90" r="3.30" style='stroke-width:1.3'/>
<line class="k" x1="1456.00" y1="983.20" x2="1474.90" y2="983.20" style='stroke-width:1.1'/>
<line class="k" x1="1591.90" y1="983.20" x2="1610.70" y2="983.20" style='stroke-width:1.1'/>
<line x1="1438.5" y1="983.2" x2="1456.1" y2="983.2" stroke="#000" stroke-width="3.4" stroke-dasharray="0.9 0.5"/>
<line x1="1610.7" y1="983.2" x2="1628.3" y2="983.2" stroke="#000" stroke-width="3.4" stroke-dasharray="0.9 0.5"/>
<path class="k" d="M1437.8,981.2 Q1435.8,983.2 1437.8,985.2" style='stroke-width:0.8'/>
<path class="k" d="M1629.2,981.2 Q1631.2,983.2 1629.2,985.2" style='stroke-width:0.8'/>
<line class="k" x1="1634.00" y1="983.20" x2="1660.50" y2="983.20" style='stroke-width:1.1'/>
<path class="f" d="M1631.60,983.20 L1634.80,981.40 L1634.80,985.00Z"/>
<path class="k" d="M1641.52,990.12 A4.50,14.00 0 1 0 1641.52,978.28" style='stroke-width:1.1'/>
<path class="f" d="M1641.62,980.28 L1639.92,977.48 L1643.32,977.48Z"/>
<circle class="n" cx="1646.80" cy="1009.20" r="5.60" />
<path d="M1644.31,1007.75 L1645.80,1006.56 L1645.80,1012.14" fill="none" stroke="#000" stroke-width="1.5" stroke-linejoin="miter" stroke-linecap="butt"/>
<path d="M1647.91,1007.75 L1649.40,1006.56 L1649.40,1012.14" fill="none" stroke="#000" stroke-width="1.5" stroke-linejoin="miter" stroke-linecap="butt"/>
</svg>
</body></html>
